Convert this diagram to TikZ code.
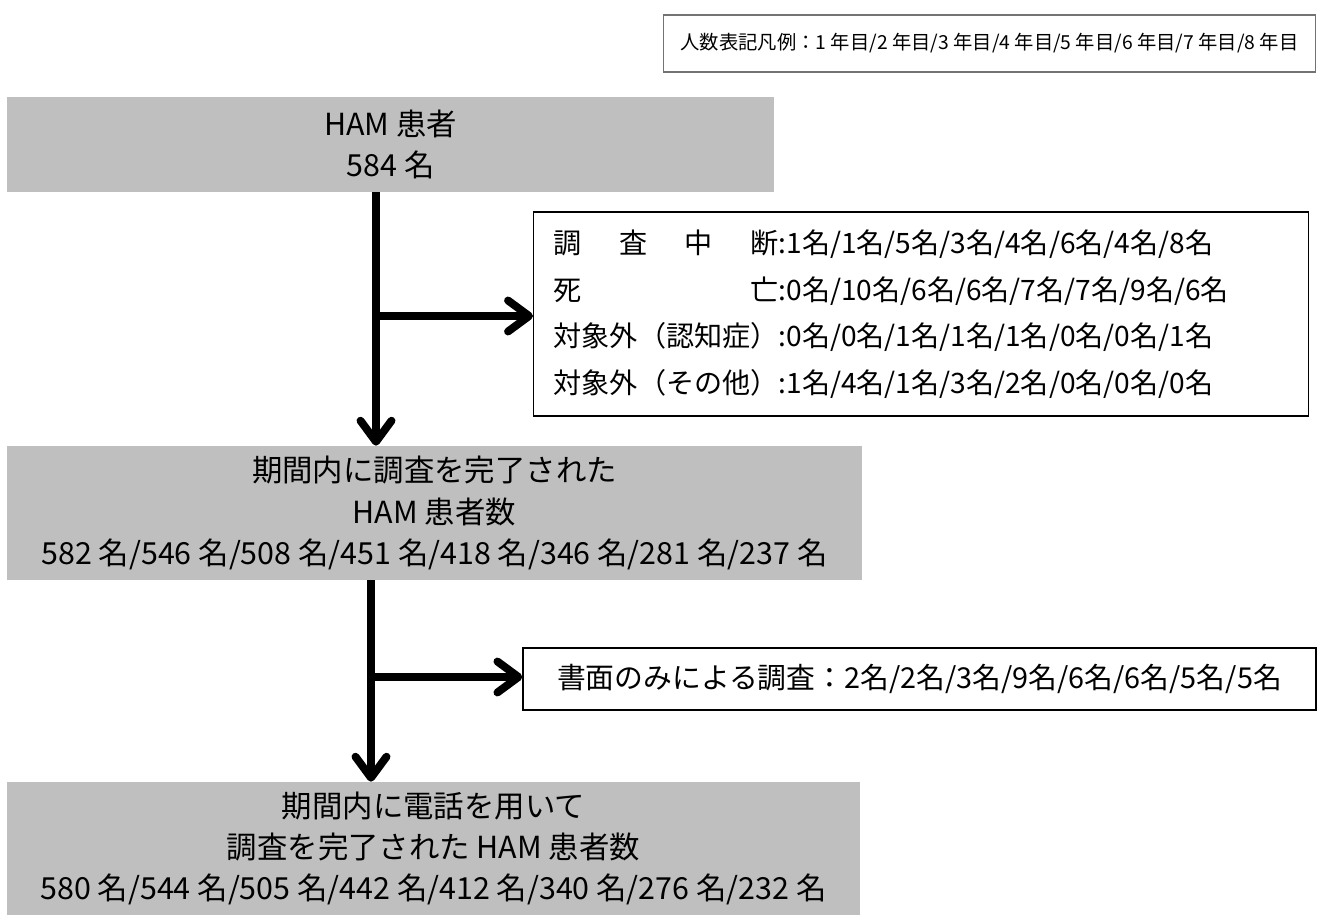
\documentclass[tikz,border=0pt]{standalone}
\usepackage{fontspec}
\setmainfont{Noto Sans CJK JP}
\usetikzlibrary{arrows.meta}
\definecolor{boxgray}{RGB}{191,191,191}
\newlength\labwd

\begin{document}
\begin{tikzpicture}[x=0.02cm, y=-0.02cm,
            graybox/.style={fill=boxgray, inner sep=0pt, align=center,
                font=\fontsize{17.3}{23.5}\selectfont},
            listbox/.style={draw, line width=0.8pt, inner sep=0pt,
                font=\fontsize{16}{26.5}\selectfont},
            legendbox/.style={draw=black!55, line width=0.6pt, inner sep=0pt,
                font=\fontsize{11}{14}\selectfont},
            flow/.style={line width=4.5pt, -{Straight Barb[round, length=0.42cm, width=0.62cm]}}]

            \useasboundingbox (0,0) rectangle (1323,922);

            \node[legendbox, minimum width=13.06cm, minimum height=1.14cm] (legend) at (989.5,43.5)
                {人数表記凡例：1 年目/2 年目/3 年目/4 年目/5 年目/6 年目/7 年目/8 年目};

            \node[graybox, minimum width=15.34cm, minimum height=1.9cm] (patients) at (390.5,144.5)
                {HAM 患者\\584 名};
            \node[listbox, anchor=west, minimum height=4.08cm, text width=14.7cm,
                  inner xsep=0.4cm, align=left] (dropout) at (533,314)
                {\settowidth\labwd{対象外（認知症）}%
                 \makebox[\labwd][s]{調\hfill 査\hfill 中\hfill 断}:1名/1名/5名/3名/4名/6名/4名/8名\\
                 \makebox[\labwd][s]{死\hfill 亡}:0名/10名/6名/6名/7名/7名/9名/6名\\
                 対象外（認知症）:0名/0名/1名/1名/1名/0名/0名/1名\\
                 対象外（その他）:1名/4名/1名/3名/2名/0名/0名/0名};
            \node[graybox, minimum width=17.1cm, minimum height=2.68cm] (surveyed) at (434.5,513)
                {期間内に調査を完了された\\HAM 患者数\\582 名/546 名/508 名/451 名/418 名/346 名/281 名/237 名};
            \node[listbox, minimum width=15.86cm, minimum height=1.24cm,
                  font=\fontsize{16.4}{20}\selectfont] (paper) at (919.5,679)
                {書面のみによる調査：2名/2名/3名/9名/6名/6名/5名/5名};
            \node[graybox, minimum width=17.06cm, minimum height=2.66cm] (phone) at (433.5,848.5)
                {期間内に電話を用いて\\調査を完了された HAM 患者数\\580 名/544 名/505 名/442 名/412 名/340 名/276 名/232 名};

            % branch points on the main line
            \coordinate (b1) at (376,316);
            \coordinate (b2) at (371,677);

            \draw[flow] (b1 |- patients.south) -- (b1 |- surveyed.north);
            \draw[flow] (b1) -- (b1 -| dropout.west);
            \draw[flow] (b2 |- surveyed.south) -- (b2 |- phone.north);
            \draw[flow] (b2) -- (b2 -| paper.west);
        \end{tikzpicture}
\end{document}
